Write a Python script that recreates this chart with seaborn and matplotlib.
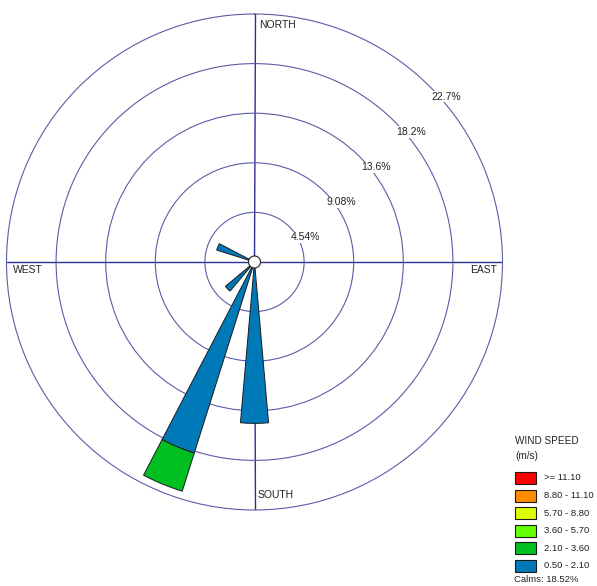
import numpy as np
import pandas as pd
import matplotlib
matplotlib.use("Agg")
import matplotlib.pyplot as plt
from matplotlib.patches import Rectangle
import seaborn as sns

# ---- data -------------------------------------------------------------
directions = ["N", "NNE", "NE", "ENE", "E", "ESE", "SE", "SSE",
              "S", "SSW", "SW", "WSW", "W", "WNW", "NW", "NNW"]
speed_classes = ["0.50 - 2.10", "2.10 - 3.60", "3.60 - 5.70",
                 "5.70 - 8.80", "8.80 - 11.10", ">= 11.10"]
# frequency (%) per direction for each wind-speed class
freq_050_210 = [0, 0, 0, 0, 0, 0, 0, 0, 14.77, 18.33, 3.48, 0, 0, 3.63, 0, 0]
freq_210_360 = [0, 0, 0, 0, 0, 0, 0, 0, 0.0, 3.67, 0, 0, 0, 0, 0, 0]
freq_360_570 = [0] * 16
freq_570_880 = [0] * 16
freq_880_1110 = [0] * 16
freq_ge_1110 = [0] * 16
class_colors = ["#0079B9", "#00C021", "#66FF00", "#DDFF00", "#FF8C00", "#FF0000"]
ring_values = [4.54, 9.08, 13.62, 18.16, 22.7]
ring_labels = ["4.54%", "9.08%", "13.6%", "18.2%", "22.7%"]
calms_pct = 18.52

# ---- figure -----------------------------------------------------------
sns.set_theme(style="white")
plt.rcParams["font.family"] = ["Liberation Sans", "DejaVu Sans"]

W, H = 597, 586
fig = plt.figure(figsize=(W / 100, H / 100), dpi=100)
fig.patch.set_facecolor("white")


def fx(x):
    return x / W


def fy(y):
    return 1 - y / H


cx, cy, R = 254.5, 262.0, 248.0
ax = fig.add_axes([fx(cx - R), fy(cy + R), 2 * R / W, 2 * R / H], projection="polar")
ax.set_theta_zero_location("N")
ax.set_theta_direction(-1)
ax.set_facecolor("white")

ring_color = "#5c5ca8"
axis_color = "#2e2e98"
ax.set_ylim(0, ring_values[-1])
ax.set_yticks(ring_values[:-1])
ax.set_yticklabels([])
ax.set_xticks(np.deg2rad([0, 90, 180, 270]))
ax.set_xticklabels([])
ax.tick_params(length=0)
ax.yaxis.grid(True, color=ring_color, lw=0.8)
ax.xaxis.grid(True, color=axis_color, lw=1.0)
ax.spines["polar"].set_color(ring_color)
ax.spines["polar"].set_linewidth(0.8)
ax.set_axisbelow(True)

# long-form table and cumulative stacking per direction
series = [freq_050_210, freq_210_360, freq_360_570,
          freq_570_880, freq_880_1110, freq_ge_1110]
df = pd.DataFrame({
    "direction": np.tile(directions, len(speed_classes)),
    "angle": np.tile(np.arange(16) * 22.5, len(speed_classes)),
    "speed": np.repeat(speed_classes, 16),
    "freq": np.concatenate(series),
})
df["top"] = df.groupby("direction", sort=False)["freq"].cumsum()
df["bottom"] = df["top"] - df["freq"]

width = np.deg2rad(10)
for cls, color in zip(speed_classes, class_colors):
    sub = df[(df["speed"] == cls) & (df["freq"] > 0)]
    if sub.empty:
        continue
    ax.bar(np.deg2rad(sub["angle"]), sub["freq"], bottom=sub["bottom"],
           width=width, color=color, edgecolor="#1a1a1a", linewidth=0.7,
           zorder=3)

# calm circle in the middle
th = np.linspace(0, 2 * np.pi, 200)
ax.fill(th, np.full_like(th, 0.55), facecolor="white", edgecolor="#222222",
        lw=0.8, zorder=5)

# ring labels
for r, lab in zip(ring_values, ring_labels):
    ax.annotate(lab, xy=(np.deg2rad(45), r), xytext=(1.2, -3.8),
                textcoords="offset points", ha="left", va="top",
                fontsize=7.5, color="#222222", zorder=6,
                bbox=dict(boxstyle="square,pad=0.05", fc="white", ec="none"))

# compass labels
fs = 7.5
fig.text(fx(259), fy(20), "NORTH", ha="left", va="top", fontsize=fs, color="#222222")
fig.text(fx(13), fy(265), "WEST", ha="left", va="top", fontsize=fs, color="#222222")
fig.text(fx(497), fy(265), "EAST", ha="right", va="top", fontsize=fs, color="#222222")
fig.text(fx(258), fy(490), "SOUTH", ha="left", va="top", fontsize=fs, color="#222222")

# legend
lfs = 6.8
fig.text(fx(515), fy(441), "WIND SPEED", ha="left", va="center", fontsize=7.2, color="#222222")
fig.text(fx(515), fy(456), "(m/s)", ha="left", va="center", fontsize=7.2, color="#222222")
for i, (cls, color) in enumerate(zip(speed_classes[::-1], class_colors[::-1])):
    top = 472 + i * 17.6
    fig.add_artist(Rectangle((fx(515), fy(top + 12)), 21 / W, 12 / H,
                             transform=fig.transFigure, facecolor=color,
                             edgecolor="#1a1a1a", lw=0.8))
    fig.text(fx(544), fy(top + 6), cls, ha="left", va="center", fontsize=lfs, color="#222222")
fig.text(fx(514), fy(579), f"Calms: {calms_pct:.2f}%", ha="left", va="center",
         fontsize=lfs, color="#222222")

fig.savefig("out.png", dpi=100, facecolor="white")
